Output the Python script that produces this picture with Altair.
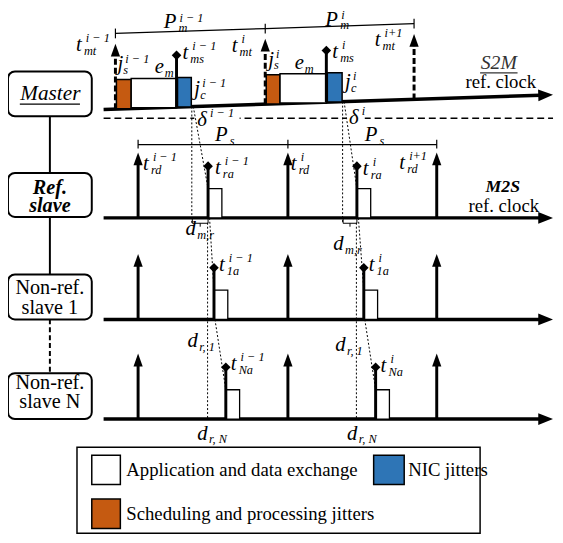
import altair as alt
import pandas as pd

SERIF = "'Liberation Serif', 'Times New Roman', Times, serif"

# ---------------- diagram values (reference pixel units) ----------------
AXIS_START = 105
AXIS_TIP = 561
MASTER_Y = [103.0, 88.0]            # master (slanted) clock at start / tip
SLAVE_Y = [214, 318, 420]           # ref slave, slave 1, slave N baselines
ROW_BOX_TOP = [64, 168, 272, 373]
ROW_BOX_BOTTOM = [110, 213, 318, 420]
ROW_BOX_X = [8, 93]

MT_X = [117, 269, 420]              # master transmit instants t_mt
MS_X = [179, 331]                   # master send instants t_ms
ORANGE_X = [[118, 133], [270, 284]]
WHITE_X = [[133, 179], [284, 331]]
BLUE_X = [[180, 194], [332, 347]]
RD_X = [140, 292, 443]              # slave deadlines t_rd
ARRIVAL_X = [[211, 362], [217, 369], [229, 381]]   # t_ra, t_1a, t_Na
ARROW_H = 67
DIAMOND_H = 53
BOX_H = 30
SLAVE_BOX_W = 14
DASH_Y = 112

ORANGE = "#c55a11"
BLUE = "#2e75b6"


def master_y(x):
    return MASTER_Y[0] + (MASTER_Y[1] - MASTER_Y[0]) * (x - AXIS_START) / (AXIS_TIP - AXIS_START)


XS = alt.Scale(domain=[8, 563], nice=False, zero=False)
YS = alt.Scale(domain=[3, 543], nice=False, zero=False, reverse=True)


def xy():
    return dict(x=alt.X("x:Q", scale=XS, axis=None), y=alt.Y("y:Q", scale=YS, axis=None))


def rules(rows, width=1.0, dash=None, color="black"):
    df = pd.DataFrame(rows, columns=["x", "y", "x2", "y2"])
    kw = dict(strokeWidth=width, color=color)
    if dash:
        kw["strokeDash"] = dash
    return alt.Chart(df).mark_rule(**kw).encode(x2="x2:Q", y2="y2:Q", **xy())


def rects(rows, fill, sw=1.5, radius=0, stroke="black"):
    df = pd.DataFrame(rows, columns=["x", "y", "x2", "y2"])
    kw = dict(fill=fill, strokeWidth=sw, cornerRadius=radius, opacity=1)
    if stroke:
        kw["stroke"] = stroke
    else:
        kw["strokeWidth"] = 0
    return alt.Chart(df).mark_rect(**kw).encode(x2="x2:Q", y2="y2:Q", **xy())


def points(rows, shape, size, angle=0):
    df = pd.DataFrame(rows, columns=["x", "y"])
    return alt.Chart(df).mark_point(shape=shape, size=size, filled=True, color="black",
                                    opacity=1, strokeWidth=0, angle=angle).encode(**xy())


def texts(rows, size, style="normal", weight="normal", align="left", color="black"):
    df = pd.DataFrame(rows, columns=["x", "y", "t"])
    return alt.Chart(df).mark_text(align=align, baseline="alphabetic", font=SERIF, fontSize=size,
                                   fontStyle=style, fontWeight=weight, color=color).encode(
        text="t:N", **xy())


# math labels: base, subscript, superscript, x (left), y (baseline)
M1 = "i \u2212 1"
MATH = [
    ("P", "m", M1, 166, 20),
    ("P", "m", "i", 330, 17),
    ("t", "mt", M1, 77, 43),
    ("j", "s", M1, 119, 63),
    ("e", "m", "", 157, 66),
    ("t", "ms", M1, 185, 51),
    ("j", "c", M1, 197, 88),
    ("t", "mt", "i", 235, 44),
    ("j", "s", "i", 272, 58),
    ("e", "m", "", 299, 62),
    ("t", "ms", "i", 337, 50),
    ("j", "c", "i", 350, 81),
    ("t", "mt", "i+1", 380, 38),
    ("\u03b4", "", M1, 200, 120),
    ("\u03b4", "", "i", 354, 118),
    ("P", "s", "", 218, 135),
    ("P", "s", "", 370, 135),
    ("t", "rd", M1, 145, 165),
    ("t", "rd", "i", 295, 165),
    ("t", "rd", "i+1", 405, 164),
    ("t", "ra", M1, 218, 169),
    ("t", "ra", "i", 368, 170),
    ("d", "m,r", "", 188, 232),
    ("d", "m,r", "", 338, 247),
    ("t", "1a", M1, 222, 268),
    ("t", "1a", "i", 374, 268),
    ("d", "r, 1", "", 190, 346),
    ("d", "r, 1", "", 340, 350),
    ("t", "Na", M1, 234, 370),
    ("t", "Na", "i", 386, 372),
    ("d", "r, N", "", 200, 441),
    ("d", "r, N", "", 352, 441),
]
# (sub x-offset, sup x-offset, sup rise)
OFFS = {"t": (8, 10, 9), "P": (15, 16, 7), "j": (6, 8, 8), "e": (10, 10, 8),
        "\u03b4": (12, 13, 9), "d": (12, 12, 8)}

layers = []

# legend frame and row boxes
layers.append(rects([[78, 449, 487, 537]], "white", sw=1.5))
layers.append(rects([[ROW_BOX_X[0], t, ROW_BOX_X[1], b] for t, b in zip(ROW_BOX_TOP, ROW_BOX_BOTTOM)],
                    "white", sw=2, radius=7))
cx = (ROW_BOX_X[0] + ROW_BOX_X[1]) / 2
layers.append(rules([[cx, ROW_BOX_BOTTOM[0], cx, ROW_BOX_TOP[1]],
                     [cx, ROW_BOX_BOTTOM[1], cx, ROW_BOX_TOP[2]]], width=2))
layers.append(rules([[cx, ROW_BOX_BOTTOM[2], cx, ROW_BOX_TOP[3]]], width=2, dash=[5, 3]))

# horizontal dashed separator and white patches behind delta labels
layers.append(rules([[AXIS_START, DASH_Y, AXIS_TIP, DASH_Y]], width=1.5, dash=[7, 4]))
layers.append(rects([[197, 103, 243, 122], [351, 103, 370, 122]], "white", stroke=None))

# clock axes
tip_len = 15
layers.append(rules([[AXIS_START, master_y(AXIS_START), AXIS_TIP - tip_len + 2, master_y(AXIS_TIP - tip_len + 2)]],
                    width=3.5))
layers.append(rules([[AXIS_START, y, AXIS_TIP - tip_len + 2, y] for y in SLAVE_Y], width=3.5))
RIGHT_HEAD = "M0,0L-1,-0.4L-1,0.4Z"
layers.append(points([[AXIS_TIP, y] for y in SLAVE_Y], RIGHT_HEAD, (2 * tip_len) ** 2))
layers.append(points([[AXIS_TIP, master_y(AXIS_TIP)]], RIGHT_HEAD, (2 * tip_len) ** 2, angle=358.1))

# master activity boxes (sitting on the slanted axis)
def mbox(pairs):
    out = []
    for a, b in pairs:
        yb = master_y((a + b) / 2)
        out.append([a, yb - BOX_H, b, yb])
    return out

layers.append(rects(mbox(ORANGE_X), ORANGE))
layers.append(rects(mbox(WHITE_X), "white"))
layers.append(rects(mbox(BLUE_X), BLUE))

# slave application boxes
sboxes = []
for row, xs in enumerate(ARRIVAL_X):
    for x in xs:
        sboxes.append([x, SLAVE_Y[row] - BOX_H, x + SLAVE_BOX_W, SLAVE_Y[row]])
layers.append(rects(sboxes, "white", sw=1.3))

UP_HEAD = "M0,0L-0.36,1L0.36,1Z"
head_h = 13
# master transmit arrows (dashed)
layers.append(rules([[x, master_y(x), x, master_y(x) - ARROW_H + head_h - 2] for x in MT_X], width=3, dash=[6, 3]))
layers.append(points([[x, master_y(x) - ARROW_H] for x in MT_X], UP_HEAD, (2 * head_h) ** 2))
# master send stems with diamonds
layers.append(rules([[x, master_y(x), x, master_y(x) - DIAMOND_H] for x in MS_X], width=3))
layers.append(points([[x, master_y(x) - DIAMOND_H] for x in MS_X], "diamond", 95))

# slave deadline arrows
layers.append(rules([[x, y, x, y - ARROW_H + head_h - 2] for y in SLAVE_Y for x in RD_X], width=3))
layers.append(points([[x, y - ARROW_H] for y in SLAVE_Y for x in RD_X], UP_HEAD, (2 * head_h) ** 2))
# slave arrival stems with diamonds
layers.append(rules([[x, SLAVE_Y[r], x, SLAVE_Y[r] - DIAMOND_H] for r, xs in enumerate(ARRIVAL_X) for x in xs],
                    width=3))
layers.append(points([[x, SLAVE_Y[r] - DIAMOND_H] for r, xs in enumerate(ARRIVAL_X) for x in xs], "diamond", 95))

# dotted propagation guides
DOTS = []
for k in range(2):
    b_end = BLUE_X[k][1]
    ra, a1, na = ARRIVAL_X[0][k], ARRIVAL_X[1][k], ARRIVAL_X[2][k]
    DOTS += [
        [b_end + 0.5, master_y(b_end), b_end + 0.5, SLAVE_Y[0] + 5],
        [b_end + 2, master_y(b_end + 2), ra, SLAVE_Y[0] - BOX_H],
        [ra + 1.5, SLAVE_Y[0], a1, SLAVE_Y[1] - BOX_H],
        [ra - 0.5, SLAVE_Y[0] + 5, ra - 0.5, SLAVE_Y[2]],
        [a1 + 1, SLAVE_Y[1], na, SLAVE_Y[2] - BOX_H],
    ]
layers.append(rules(DOTS, width=1, dash=[2, 2]))

# d_{m,r} brackets below the ref. slave axis
BR = []
for k in range(2):
    a, b = BLUE_X[k][1] + 1, ARRIVAL_X[0][k]
    yb = SLAVE_Y[0] + 5.5
    BR += [[a, yb, b, yb], [a, SLAVE_Y[0], a, yb], [b, SLAVE_Y[0], b, yb],
           [(a + b) / 2, yb, (a + b) / 2, yb + 3.5]]
layers.append(rules(BR, width=1))

# period brackets
PM = []
for a, b in zip(MT_X[:-1], MT_X[1:]):
    PM.append([a, master_y(a) - 77.5, b, master_y(b) - 77.5])
for x in MT_X:
    PM.append([x, master_y(x) - 82.5, x, master_y(x) - 72.5])
PS_Y = 139
for a, b in zip(RD_X[:-1], RD_X[1:]):
    PM.append([a, PS_Y, b, PS_Y])
for x in RD_X:
    PM.append([x, PS_Y - 5, x, PS_Y + 4])
layers.append(rules(PM, width=1.2))

# math labels
base_rows, sub_rows, sup_rows = [], [], []
for base, sub, sup, x, y in MATH:
    ox_sub, ox_sup, rise = OFFS[base]
    base_rows.append([x, y, base])
    if sub:
        sub_rows.append([x + ox_sub, y + 4, sub])
    if sup:
        sup_rows.append([x + ox_sup, y - rise, sup])
layers.append(texts(base_rows, 21, style="italic"))
layers.append(texts(sub_rows, 12.5, style="italic"))
layers.append(texts(sup_rows, 12.5, style="italic"))

# row box texts
layers.append(texts([[cx + 0.5, 93, "Master"]], 21.5, style="italic", align="center"))
layers.append(rules([[20, 97.5, 81, 97.5]], width=1.2))
layers.append(texts([[cx, 190, "Ref."], [cx, 208, "slave"]], 20.5, style="italic", weight="bold", align="center"))
layers.append(texts([[cx, 292, "Non-ref."], [cx, 312, "slave 1"], [cx, 389, "Non-ref."], [cx, 409, "slave N"]],
                    20.5, align="center"))

# clock captions
layers.append(texts([[506, 62, "S2M"]], 20, style="italic", align="center", color="#333333"))
layers.append(rules([[487, 65.5, 525, 65.5]], width=1.2, color="#333333"))
layers.append(texts([[508, 81, "ref. clock"], [511, 208, "ref. clock"]], 19, align="center"))
layers.append(texts([[510, 187, "M2S"]], 18, style="italic", weight="bold", align="center"))

# legend
layers.append(rects([[93, 457, 122, 487]], "white", sw=1.5))
layers.append(rects([[379, 457, 410, 487]], BLUE, sw=1.5))
layers.append(rects([[93, 502, 122, 532]], ORANGE, sw=1.5))
layers.append(texts([[128, 478, "Application and data exchange"], [414, 478, "NIC jitters"],
                     [128, 523, "Scheduling and processing jitters"]], 19))

chart = alt.layer(*layers).properties(
    width=555, height=535, padding=0,
    autosize=alt.AutoSizeParams(type="none"), background="white",
).configure_view(strokeWidth=0)

chart.save("out.html", embed_options={"renderer": "svg", "actions": False})
